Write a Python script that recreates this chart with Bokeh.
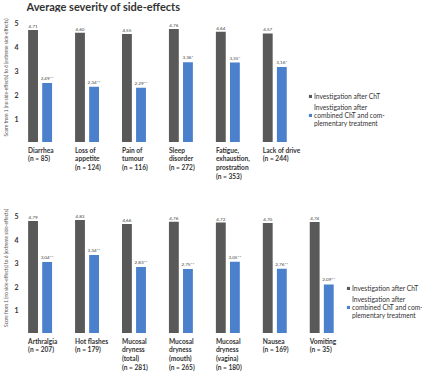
import numpy as np
from bokeh.plotting import figure
from bokeh.models import ColumnDataSource, FixedTicker, Legend, LegendItem, Range1d
from bokeh.layouts import column
from bokeh.embed import file_html
from bokeh.resources import INLINE
from bokeh.core.properties import value

title_text = "Average severity of side-effects"
y_axis_text = "Score from 1 (no side-effects) to 6 (extreme side-effects)"
series_names = ["Investigation after ChT",
                "Investigation after\ncombined ChT and com-\nplementary treatment"]

top_categories = ["Diarrhea\n(n = 85)", "Loss of\nappetite\n(n = 124)", "Pain of\ntumour\n(n = 116)",
                  "Sleep\ndisorder\n(n = 272)", "Fatigue,\nexhaustion,\nprostration\n(n = 353)",
                  "Lack of drive\n(n = 244)"]
top_cht = [4.71, 4.60, 4.55, 4.76, 4.64, 4.57]
top_comb = [2.49, 2.34, 2.29, 3.36, 3.35, 3.16]
top_sig = ["**", "**", "**", "*", "*", "*"]

bottom_categories = ["Arthralgia\n(n = 207)", "Hot flashes\n(n = 179)",
                     "Mucosal\ndryness\n(total)\n(n = 281)", "Mucosal\ndryness\n(mouth)\n(n = 265)",
                     "Mucosal\ndryness\n(vagina)\n(n = 180)", "Nausea\n(n = 169)", "Vomiting\n(n = 35)"]
bottom_cht = [4.79, 4.83, 4.66, 4.76, 4.72, 4.70, 4.74]
bottom_comb = [3.04, 3.34, 2.83, 2.75, 3.05, 2.76, 2.09]
bottom_sig = ["**", "**", "**", "**", "**", "**", "**"]

y_ticks = [1, 2, 3, 4, 5]

GRAY = "#595959"
BLUE = "#4a80cc"
TXT = "#333333"
FONT = "Lato"
PX_PER_GROUP = 47.65
W = 422
LEFT = 20
X0 = -(41.8 - 28) / PX_PER_GROUP
X1 = X0 + (W - LEFT) / PX_PER_GROUP
XR = Range1d(X0, X1)


def fmt(v, s=""):
    return f"{v:.2f}".replace(".", ",") + s


def base_fig(height, left, xr, yr):
    p = figure(width=W, height=height, output_backend="svg", toolbar_location=None,
               x_range=xr, y_range=yr, x_axis_location=None, y_axis_location=None,
               min_border_left=left, min_border_right=0, min_border_top=0, min_border_bottom=0,
               outline_line_color=None, background_fill_color="white", border_fill_color="white")
    p.xgrid.visible = False
    p.ygrid.visible = False
    return p


def title_fig(text, height):
    p = base_fig(height, 0, Range1d(0, W), Range1d(-height, 0))
    p.text(x=[0], y=[-5.5], text=[text], text_align="left", text_baseline="middle",
           text_font=value(FONT), text_font_style="bold", text_font_size="11px", text_color=TXT)
    return p


def bars_fig(cht, comb, sig, height, px_per_unit, legend_loc):
    n = len(cht)
    idx = np.arange(n)
    y_end = height / px_per_unit
    p = figure(width=W, height=height, output_backend="svg", toolbar_location=None,
               x_range=XR, y_range=Range1d(0, y_end), x_axis_location=None,
               min_border_left=LEFT, min_border_right=0, min_border_top=0, min_border_bottom=0,
               outline_line_color=None, background_fill_color="white", border_fill_color="white")
    p.xgrid.visible = False
    p.ygrid.visible = False

    src_g = ColumnDataSource(dict(x=idx - 0.15, top=cht, lab=[fmt(v) for v in cht]))
    src_b = ColumnDataSource(dict(x=idx + 0.15, top=comb, lab=[fmt(v, s) for v, s in zip(comb, sig)]))
    r1 = p.vbar(x="x", top="top", bottom=0, width=0.21, source=src_g, fill_color=GRAY, line_color=None)
    r2 = p.vbar(x="x", top="top", bottom=0, width=0.21, source=src_b, fill_color=BLUE, line_color=None)
    for src in (src_g, src_b):
        p.text(x="x", y="top", text="lab", source=src, text_align="center", text_baseline="bottom",
               y_offset=-2, text_font=value(FONT), text_font_size="4.6px", text_color="#444444")

    ax = p.yaxis[0]
    ax.ticker = FixedTicker(ticks=y_ticks)
    ax.axis_line_color = None
    ax.major_tick_line_color = None
    ax.minor_tick_line_color = None
    ax.major_tick_out = 0
    ax.major_tick_in = 0
    ax.major_label_standoff = 8
    ax.major_label_text_font = FONT
    ax.major_label_text_font_style = "bold"
    ax.major_label_text_font_size = "7px"
    ax.major_label_text_color = TXT
    ax.axis_label = y_axis_text
    ax.axis_label_standoff = 2
    ax.axis_label_text_font = FONT
    ax.axis_label_text_font_style = "normal"
    ax.axis_label_text_font_size = "4.8px"
    ax.axis_label_text_color = "#555555"

    legend = Legend(items=[LegendItem(label=series_names[0], renderers=[r1]),
                           LegendItem(label=series_names[1], renderers=[r2])],
                    location=legend_loc, orientation="vertical",
                    background_fill_alpha=0, border_line_color=None, padding=0, margin=0,
                    spacing=3, glyph_width=4, glyph_height=4, label_standoff=2,
                    label_text_font=FONT, label_text_font_size="6.7px", label_text_color=TXT,
                    label_text_line_height=1.08, label_height=6)
    p.add_layout(legend)
    return p


def labels_fig(cats, height):
    n = len(cats)
    idx = np.arange(n)
    p = base_fig(height, LEFT, XR, Range1d(-height, 0))
    src = ColumnDataSource(dict(x=idx - 0.255, y=[0] * n, t=cats))
    p.text(x="x", y="y", text="t", source=src, y_offset=3, text_align="left", text_baseline="top",
           text_font=value(FONT), text_font_style="bold", text_font_size="6.6px",
           text_color=TXT, text_line_height=1.12)
    return p


p_title = title_fig(title_text, 12)
p1 = bars_fig(top_cht, top_comb, top_sig, 130, 23.86, (282, 15))
l1 = labels_fig(top_categories, 60)
p2 = bars_fig(bottom_cht, bottom_comb, bottom_sig, 131, 23.5, (320, 14))
l2 = labels_fig(bottom_categories, 39)

layout = column(p_title, p1, l1, p2, l2, spacing=0)
open("out.html", "w").write(file_html(layout, INLINE))
